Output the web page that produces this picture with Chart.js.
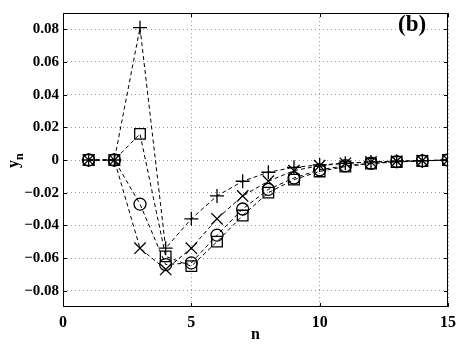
<!DOCTYPE html>
<html>
<head>
<meta charset="utf-8">
<script src="https://cdn.jsdelivr.net/npm/chart.js@4"></script>
<style>
  html, body { margin: 0; padding: 0; background: #fff; }
  #wrap { width: 466px; height: 346px; }
</style>
</head>
<body>
<div id="wrap"><canvas id="c" width="466" height="346"></canvas></div>
<script>
// data
const nValues = [1, 2, 3, 4, 5, 6, 7, 8, 9, 10, 11, 12, 13, 14, 15];
const plusSeries   = [0, 0, 0.081, -0.054, -0.036, -0.022, -0.013, -0.0075, -0.0045, -0.003, -0.002, -0.0012, -0.0007, -0.0004, 0];
const squareSeries = [0, 0, 0.016, -0.059, -0.065, -0.050, -0.034, -0.020, -0.012, -0.007, -0.004, -0.0022, -0.0012, -0.0006, 0];
const circleSeries = [0, 0, -0.027, -0.064, -0.063, -0.046, -0.030, -0.018, -0.011, -0.006, -0.0035, -0.002, -0.001, -0.0005, 0];
const crossSeries  = [0, 0, -0.054, -0.067, -0.054, -0.036, -0.022, -0.013, -0.0065, -0.0035, -0.002, -0.0012, -0.0007, -0.0004, 0];
const xTicks = [0, 5, 10, 15];
const yTicks = [-0.08, -0.06, -0.04, -0.02, 0, 0.02, 0.04, 0.06, 0.08];

const serif = "'Liberation Serif', 'DejaVu Serif', serif";

function series(values, style, radius) {
    return {
        data: nValues.map((n, i) => ({ x: n, y: values[i] })),
        borderColor: '#000',
        borderWidth: 1,
        borderDash: [4, 3],
        pointStyle: style,
        pointRadius: radius,
        pointBorderColor: '#000',
        pointBackgroundColor: 'rgba(0,0,0,0)',
        pointBorderWidth: 1.3,
        showLine: true,
        tension: 0,
    };
}

function fmt(v) {
    if (Math.abs(v) < 1e-9) return '0';
    const s = Math.abs(v).toFixed(2);
    return (v < 0 ? '\u2212' : '') + s;
}

// frame, inward ticks, y label and panel tag
const decor = {
    id: 'decor',
    afterDraw(chart) {
        const ctx = chart.ctx;
        const a = chart.chartArea;
        const xs = chart.scales.x, ys = chart.scales.y;
        ctx.save();
        ctx.strokeStyle = '#000';
        ctx.lineWidth = 1;
        ctx.strokeRect(a.left + 0.5, a.top + 0.5, a.right - a.left - 1, a.bottom - a.top - 1);
        ctx.beginPath();
        xTicks.forEach(t => {
            const px = Math.round(xs.getPixelForValue(t)) + 0.5;
            ctx.moveTo(px, a.bottom); ctx.lineTo(px, a.bottom - 4);
            ctx.moveTo(px, a.top); ctx.lineTo(px, a.top + 4);
        });
        yTicks.forEach(t => {
            const py = Math.round(ys.getPixelForValue(t)) + 0.5;
            ctx.moveTo(a.left, py); ctx.lineTo(a.left + 4, py);
            ctx.moveTo(a.right, py); ctx.lineTo(a.right - 4, py);
        });
        ctx.stroke();

        // y_n label
        ctx.fillStyle = '#000';
        ctx.translate(18, (a.top + a.bottom) / 2);
        ctx.rotate(-Math.PI / 2);
        ctx.textBaseline = 'alphabetic';
        ctx.textAlign = 'left';
        ctx.font = 'bold 16px ' + serif;
        ctx.fillText('y', -8, 0);
        ctx.font = 'bold 12px ' + serif;
        ctx.fillText('n', 0, 5);
        ctx.restore();

        ctx.save();
        ctx.fillStyle = '#000';
        ctx.font = 'bold 23px ' + serif;
        ctx.textAlign = 'left';
        ctx.textBaseline = 'alphabetic';
        ctx.fillText('(b)', 398, 31);
        ctx.restore();
    }
};

new Chart(document.getElementById('c'), {
    type: 'scatter',
    data: {
        datasets: [
            series(plusSeries, 'cross', 7),
            series(squareSeries, 'rect', 7.5),
            series(circleSeries, 'circle', 6),
            series(crossSeries, 'crossRot', 8),
        ]
    },
    options: {
        responsive: false,
        animation: false,
        devicePixelRatio: 1,
        layout: { padding: { top: 3, right: 18, left: 0, bottom: 0 } },
        plugins: {
            legend: { display: false },
            tooltip: { enabled: false },
        },
        scales: {
            x: {
                type: 'linear',
                min: 0,
                max: 15,
                afterBuildTicks: s => { s.ticks = xTicks.map(v => ({ value: v })); },
                afterFit: s => { s.height = 39; },
                grid: {
                    color: '#9a9a9a',
                    lineWidth: 1,
                    borderDash: [1, 3],
                    drawTicks: false,
                },
                border: { display: false, dash: [1, 3] },
                ticks: {
                    color: '#000',
                    padding: 6,
                    maxRotation: 0,
                    font: { family: serif, size: 16, weight: 'bold' },
                    callback: v => String(v),
                },
                title: {
                    display: true,
                    text: 'n',
                    color: '#000',
                    padding: { top: 0, bottom: 2 },
                    font: { family: serif, size: 16, weight: 'bold' },
                },
            },
            y: {
                type: 'linear',
                min: -0.09,
                max: 0.09,
                afterBuildTicks: s => { s.ticks = yTicks.map(v => ({ value: v })); },
                afterFit: s => { s.width = 63; },
                grid: {
                    color: '#9a9a9a',
                    lineWidth: 1,
                    drawTicks: false,
                },
                border: { display: false, dash: [1, 3] },
                ticks: {
                    color: '#000',
                    padding: 4,
                    font: { family: serif, size: 15, weight: 'bold' },
                    callback: v => fmt(v),
                },
            },
        },
    },
    plugins: [decor],
});
</script>
</body>
</html>
